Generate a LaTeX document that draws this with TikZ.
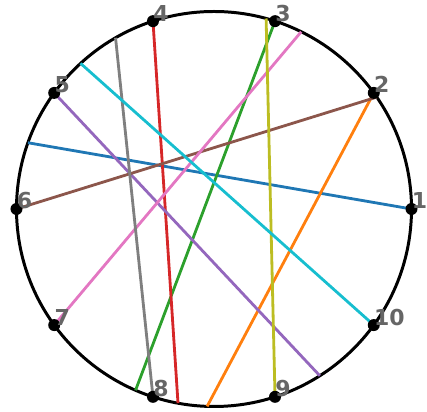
\documentclass[tikz,border=0pt]{standalone}
\usepackage{fontspec}
\setmainfont{DejaVu Sans}
\usepackage{xcolor}
\usepackage{tikz}
\usetikzlibrary{positioning}
\definecolor{tabblue}{HTML}{1F77B4}
\definecolor{taborange}{HTML}{FF7F0E}
\definecolor{tabgreen}{HTML}{2CA02C}
\definecolor{tabred}{HTML}{D62728}
\definecolor{tabpurple}{HTML}{9467BD}
\definecolor{tabbrown}{HTML}{8C564B}
\definecolor{tabpink}{HTML}{E377C2}
\definecolor{tabgray}{HTML}{7F7F7F}
\definecolor{tabolive}{HTML}{BCBD22}
\definecolor{tabcyan}{HTML}{17BECF}
\definecolor{numgray}{HTML}{666666}

\begin{document}
\begin{tikzpicture}[
        ring/.style={line width=1.7pt, draw=black},
        chord/.style={line width=1.6pt},
        pin/.style={
            circle,
            fill=black,
            minimum size=2.4mm,
            inner sep=0pt
        },
        num/.style={anchor=base west, inner sep=0pt, text=numgray,
            font=\fontsize{12.5}{15}\selectfont\bfseries}
    ]
        \useasboundingbox (-4.28,-4.06) rectangle (4.26,4.18);
        \def\R{3.95}

        \draw[ring] (0,0) circle (\R);

        % points on the ring
        \coordinate (c1) at (0:\R);
        \coordinate (c2) at (36:\R);
        \coordinate (c3) at (72:\R);
        \coordinate (c4) at (108:\R);
        \coordinate (c5) at (144:\R);
        \coordinate (c6) at (180:\R);
        \coordinate (c7) at (216:\R);
        \coordinate (c8) at (252:\R);
        \coordinate (c9) at (288:\R);
        \coordinate (c10) at (324:\R);

        % far ends of the chords
        \coordinate (e1) at (160.4:\R);
        \coordinate (e2) at (268:\R);
        \coordinate (e3) at (246.6:\R);
        \coordinate (e4) at (259.5:\R);
        \coordinate (e5) at (302.4:\R);
        \coordinate (e6) at (34.5:\R);
        \coordinate (e7) at (63.8:\R);
        \coordinate (e8) at (119.9:\R);
        \coordinate (e9) at (74.7:\R);
        \coordinate (e10) at (132.5:\R);

        \draw[chord, tabblue] (c1) -- (e1);
        \draw[chord, taborange] (c2) -- (e2);
        \draw[chord, tabgreen] (c3) -- (e3);
        \draw[chord, tabred] (c4) -- (e4);
        \draw[chord, tabpurple] (c5) -- (e5);
        \draw[chord, tabbrown] (c6) -- (e6);
        \draw[chord, tabpink] (c7) -- (e7);
        \draw[chord, tabgray] (c8) -- (e8);
        \draw[chord, tabolive] (c9) -- (e9);
        \draw[chord, tabcyan] (c10) -- (e10);

        \node[pin] (p1) at (c1) {};
        \node[pin] (p2) at (c2) {};
        \node[pin] (p3) at (c3) {};
        \node[pin] (p4) at (c4) {};
        \node[pin] (p5) at (c5) {};
        \node[pin] (p6) at (c6) {};
        \node[pin] (p7) at (c7) {};
        \node[pin] (p8) at (c8) {};
        \node[pin] (p9) at (c9) {};
        \node[pin] (p10) at (c10) {};

        \node[num] (n1) at (p1.center) {1};
        \node[num] (n2) at (p2.center) {2};
        \node[num] (n3) at (p3.center) {3};
        \node[num] (n4) at (p4.center) {4};
        \node[num] (n5) at (p5.center) {5};
        \node[num] (n6) at (p6.center) {6};
        \node[num] (n7) at (p7.center) {7};
        \node[num] (n8) at (p8.center) {8};
        \node[num] (n9) at (p9.center) {9};
        \node[num] (n10) at (p10.center) {10};
    \end{tikzpicture}
\end{document}
